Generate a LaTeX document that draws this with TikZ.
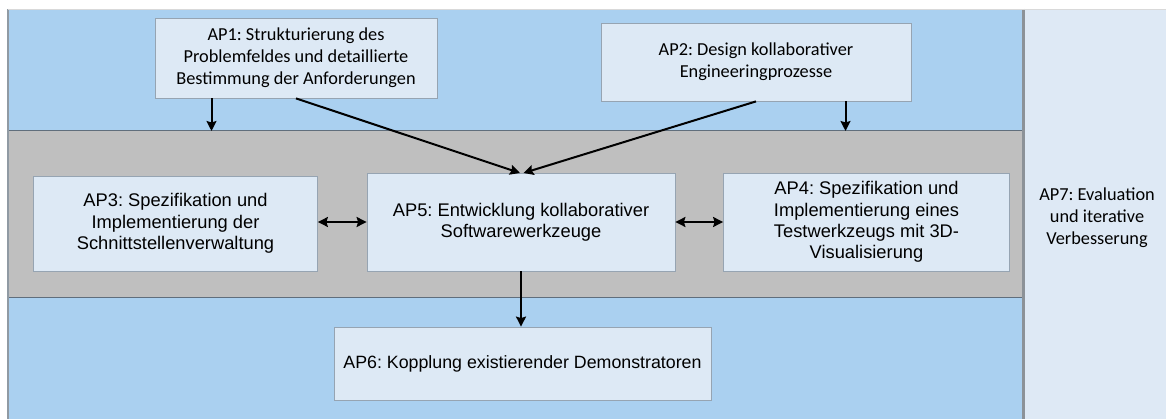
\documentclass[tikz,border=0pt]{standalone}
\usepackage{fontspec}
\setmainfont{Liberation Sans}
\newfontfamily\calfont{Carlito}
\newfontfamily\arifont{Liberation Sans}
\usetikzlibrary{arrows.meta}
\frenchspacing

\definecolor{bandblue}{RGB}{170,208,240}
\definecolor{bandgray}{RGB}{191,191,191}
\definecolor{boxfill}{RGB}{221,233,245}
\definecolor{colfill}{RGB}{222,233,245}
\definecolor{boxline}{RGB}{150,164,178}
\definecolor{bandline}{RGB}{96,110,124}
\definecolor{divline}{RGB}{140,146,152}

\tikzset{
  apbox/.style={draw=boxline, line width=0.8pt, fill=boxfill, align=center,
    inner sep=0pt, text=black},
  caltext/.style={font=\calfont\fontsize{18.3}{22}\selectfont},
  aritext/.style={font=\arifont\fontsize{18.3}{21.3}\selectfont},
  tip/.style={Stealth[length=10pt,width=10pt,inset=1.5pt]},
  flow/.style={line width=2pt, -{Stealth[length=10pt,width=10pt,inset=1.5pt]}},
  biflow/.style={line width=2pt, {Stealth[length=10pt,width=10pt,inset=1.5pt]}-{Stealth[length=10pt,width=10pt,inset=1.5pt]}},
}

\begin{document}
\begin{tikzpicture}[x=1pt,y=-1pt]
\useasboundingbox (0,0) rectangle (1166,419);
\fill[white] (0,0) rectangle (1166,419);

% background bands
\fill[bandblue] (8,9) rectangle (1024,131);
\fill[bandgray] (8,131) rectangle (1024,298);
\fill[bandblue] (8,298) rectangle (1024,419);
\fill[colfill] (1024,9) rectangle (1166,419);
\draw[bandline, line width=1pt] (8,131) -- (1024,131);
\draw[bandline, line width=1pt] (8,298) -- (1024,298);
\draw[bandline!70, line width=1.2pt] (8,9) -- (8,419);
\draw[divline, line width=2.4pt] (1023.5,9) -- (1023.5,419);
\draw[black!15, line width=0.8pt] (8,9) -- (1166,9);

% work packages
\node[apbox, caltext, minimum width=282pt, minimum height=80pt] (ap1) at (296,58)
  {AP1: Strukturierung des\\Problemfeldes und detaillierte\\Bestimmung der Anforderungen};
\node[apbox, caltext, minimum width=310pt, minimum height=78pt] (ap2) at (756,62)
  {AP2: Design kollaborativer\\Engineeringprozesse};
\node[apbox, aritext, minimum width=284pt, minimum height=95pt] (ap3) at (175.5,223.5)
  {AP3: Spezifikation und\\Implementierung der\\Schnittstellenverwaltung};
\node[apbox, aritext, minimum width=308pt, minimum height=98pt] (ap5) at (521,222)
  {AP5: Entwicklung kollaborativer\\Softwarewerkzeuge};
\node[apbox, aritext, minimum width=286pt, minimum height=98pt] (ap4) at (866.5,222)
  {AP4: Spezifikation und\\Implementierung eines\\Testwerkzeugs mit 3D-\\Visualisierung};
\node[apbox, aritext, font=\arifont\fontsize{17.8}{21}\selectfont,
  minimum width=377pt, minimum height=73pt] (ap6) at (522.5,363.5)
  {AP6: Kopplung existierender Demonstratoren};
\node[caltext, align=center, inner sep=0pt] (ap7) at (1097,218)
  {AP7: Evaluation\\und iterative\\Verbesserung};

% arrow ends on the grey band
\coordinate (g1) at (211.5,131);
\coordinate (g2) at (845.5,131);
\coordinate (t1) at (520,173);
\coordinate (t2) at (523.5,173);

% connectors
\draw[flow] (ap1.south -| g1) -- (g1);
\draw[flow] (ap2.south -| g2) -- (g2);
\draw[flow] (ap1.south) -- (t1);
\draw[flow] (ap2.south) -- (t2);
\draw[biflow] (ap3.east |- ap5.west) -- (ap5.west);
\draw[biflow] (ap5.east) -- (ap4.west);
\draw[flow] (ap5.south) -- (ap6.north -| ap5.south);
\end{tikzpicture}
\end{document}
